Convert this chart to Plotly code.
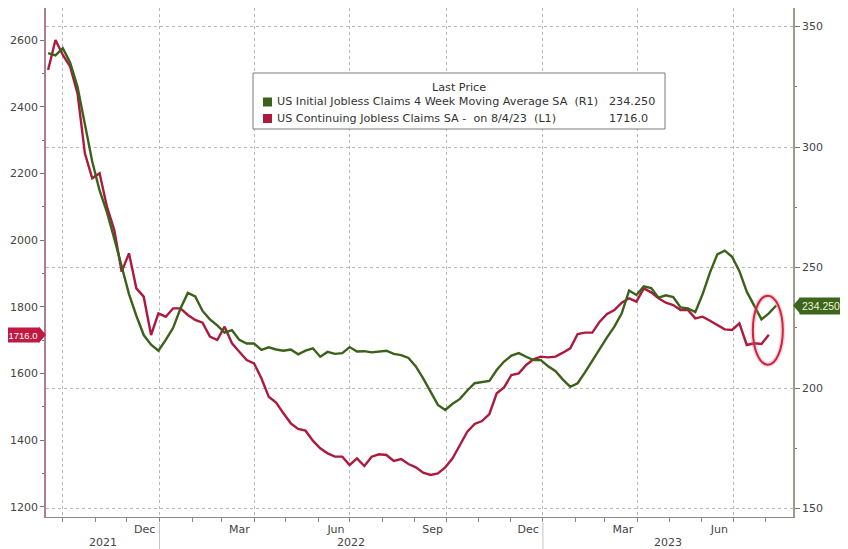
import pandas as pd
import plotly.graph_objects as go

# ---------------- data ----------------
red_start = "2021-09-17"
green_start = "2021-09-17"

continuing_claims = [
    2510, 2600, 2555, 2520, 2440, 2260, 2185, 2200, 2100, 2030,
    1905, 1960, 1855, 1830, 1715, 1780, 1770, 1795, 1795, 1775,
    1760, 1752, 1710, 1700, 1740, 1690, 1665, 1640, 1630, 1585,
    1530, 1512, 1480, 1450, 1433, 1428, 1398, 1375, 1360, 1350,
    1350, 1325, 1345, 1322, 1350, 1357, 1355, 1337, 1343, 1328,
    1318, 1302, 1295, 1300, 1318, 1345, 1385, 1425, 1448, 1457,
    1478, 1540, 1558, 1595, 1600, 1625, 1642, 1650, 1648, 1650,
    1662, 1675, 1718, 1722, 1722, 1755, 1778, 1790, 1812, 1825,
    1815, 1855, 1843, 1825, 1812, 1805, 1790, 1790, 1765, 1770,
    1758, 1745, 1732, 1730, 1750, 1685, 1690, 1688, 1716.0,
]

initial_claims_4wk = [
    339, 338, 341, 335, 325, 310, 294, 282, 273, 262,
    250, 239, 230, 222, 218, 215.5, 220, 225, 233, 239.5,
    238, 232, 228.5, 226, 223, 224, 220, 218.5, 218.5, 215.8,
    216.9, 216, 215.5, 216, 214, 215.5, 216.5, 213, 215, 214.2,
    214.5, 217, 215.2, 215.3, 214.8, 215, 215.5, 214.2, 213.7, 212.5,
    209, 204, 198.5, 193, 190.9, 193.5, 195.5, 199, 202, 202.6,
    203, 207.5, 211, 213.5, 214.5, 213, 211.6, 211.6, 209, 207,
    203.5, 200.5, 202, 206.5, 211.5, 216.5, 221, 225.5, 231, 240.5,
    238.6, 242.2, 241.5, 237.5, 238.5, 237.8, 233.5, 233.1, 231.5, 239,
    248, 255.5, 257, 254.5, 248.5, 240, 234, 228.5, 231, 234.25,
]

month_tick_dates = ["2021-12-18", "2022-03-18", "2022-06-18", "2022-09-18",
                    "2022-12-18", "2023-03-18", "2023-06-18"]
month_tick_text = ["Dec", "Mar", "Jun", "Sep", "Dec", "Mar", "Jun"]
year_labels = ["2021", "2022", "2023"]
year_bounds = ["2022-01-01", "2023-01-01"]

green_name = "US Initial Jobless Claims 4 Week Moving Average SA\u00a0\u00a0(R1)"
red_name = "US Continuing Jobless Claims SA -\u00a0\u00a0on 8/4/23\u00a0\u00a0(L1)"

# ---------------- styling ----------------
RED = "#ac1a3e"
GREEN = "#3b611b"
FONT = "DejaVu Sans, Verdana, sans-serif"
TAG_FONT = "Liberation Sans, Arial, sans-serif"
TXT = "#444444"
GRID = "#b8b8b8"
LEG_FS = 11.2

# the page body has an 8px margin, so the figure is 8px smaller than the window
W, H = 840, 541
PL, PR, PT, PB = 38, 55, 0, 32   # plot area 747 x 509

x_start = pd.Timestamp("2021-09-15")
x_end = pd.Timestamp("2023-08-27")

red_dates = pd.date_range(red_start, periods=len(continuing_claims), freq="7D")
green_dates = pd.date_range(green_start, periods=len(initial_claims_4wk), freq="7D")

fig = go.Figure()
fig.add_trace(go.Scatter(x=red_dates, y=continuing_claims, mode="lines",
                         line=dict(color=RED, width=2.4), xaxis="x", yaxis="y",
                         showlegend=False, hoverinfo="skip"))
fig.add_trace(go.Scatter(x=green_dates, y=initial_claims_4wk, mode="lines",
                         line=dict(color=GREEN, width=2.4), xaxis="x2", yaxis="y2",
                         showlegend=False, hoverinfo="skip"))

fig.update_layout(
    width=W, height=H,
    margin=dict(l=PL, r=PR, t=PT, b=PB, autoexpand=False),
    paper_bgcolor="white", plot_bgcolor="white",
    font=dict(family=FONT, size=11, color=TXT),
    xaxis=dict(
        range=[x_start, x_end], anchor="y",
        tickmode="array", tickvals=month_tick_dates, ticktext=month_tick_text,
        ticks="", showgrid=False, zeroline=False, ticklabelstandoff=2,
        showline=True, linecolor="#8a8a8a", linewidth=1,
        tickfont=dict(size=11, color=TXT),
        minor=dict(tickmode="linear", tick0="2021-09-01", dtick="M1",
                   ticks="outside", ticklen=4, tickcolor="#8a8a8a", showgrid=False),
    ),
    xaxis2=dict(
        range=[x_start, x_end], overlaying="x", anchor="y2", side="bottom",
        tickmode="linear", tick0="2021-10-01", dtick="M3",
        showgrid=True, gridcolor=GRID, griddash="dot", gridwidth=1,
        showticklabels=False, ticks="", showline=False, zeroline=False,
    ),
    yaxis=dict(
        range=[1169, 2696], tickmode="linear", tick0=1200, dtick=200,
        ticks="outside", ticklen=4, tickcolor="#777777",
        showgrid=False, zeroline=False,
        showline=True, linecolor="#a9808d", linewidth=1.5,
        tickfont=dict(size=11, color=TXT),
        minor=dict(tickmode="linear", tick0=1200, dtick=100, ticks="outside",
                   ticklen=2, tickcolor="#777777", showgrid=False),
    ),
    yaxis2=dict(
        range=[146.5, 357.7], overlaying="y", side="right", anchor="x2",
        tickmode="linear", tick0=150, dtick=50,
        ticks="outside", ticklen=5, tickcolor="#777777",
        showgrid=True, gridcolor=GRID, griddash="dot", gridwidth=1,
        zeroline=False, showline=True, linecolor="#9c9c8c", linewidth=1.5,
        tickfont=dict(size=11, color=TXT),
        minor=dict(tickmode="linear", tick0=150, dtick=25, ticks="outside",
                   ticklen=2, tickcolor="#777777", showgrid=False),
    ),
)

# helpers: window pixel -> paper coordinates
def px_x(p):
    return (p - 8 - PL) / (W - PL - PR)

def px_y(p):
    return (H - PB - (p - 8)) / (H - PT - PB)

# ---- year labels + separators ----
bounds = [x_start] + [pd.Timestamp(b) for b in year_bounds] + [x_end]
for i, lab in enumerate(year_labels):
    mid = bounds[i] + (bounds[i + 1] - bounds[i]) / 2
    fig.add_annotation(x=mid, xref="x", y=px_y(542), yref="paper", yanchor="middle",
                       xanchor="center", text=lab, showarrow=False,
                       font=dict(size=11, color=TXT))
for b in year_bounds:
    fig.add_shape(type="line", xref="x", yref="paper", x0=b, x1=b,
                  y0=px_y(523), y1=px_y(549), line=dict(color="#c4c4c4", width=1))

# ---- legend box ----
fig.add_shape(type="rect", xref="paper", yref="paper",
              x0=px_x(253), x1=px_x(665), y0=px_y(129), y1=px_y(73),
              line=dict(color="#7a7a7a", width=1), fillcolor="white", layer="above")
fig.add_annotation(x=px_x(459), y=px_y(87), xref="paper", yref="paper",
                   xanchor="center", yanchor="middle",
                   text="Last Price", showarrow=False,
                   font=dict(size=LEG_FS, color="#333333"))
rows = [(GREEN, green_name, f"{initial_claims_4wk[-1]:.3f}", 102, 657),
        (RED, red_name, f"{continuing_claims[-1]:.1f}", 118.5, 650)]
for col, name, val, yc, vx in rows:
    fig.add_shape(type="rect", xref="paper", yref="paper",
                  x0=px_x(263), x1=px_x(272), y0=px_y(yc + 4.5), y1=px_y(yc - 4.5),
                  line=dict(width=0), fillcolor=col, layer="above")
    fig.add_annotation(x=px_x(275), y=px_y(yc), xref="paper", yref="paper",
                       xanchor="left", yanchor="middle", text=name, showarrow=False,
                       font=dict(size=LEG_FS, color="#333333"))
    fig.add_annotation(x=px_x(vx), y=px_y(yc), xref="paper", yref="paper",
                       xanchor="right", yanchor="middle", text=val, showarrow=False,
                       font=dict(size=LEG_FS, color="#333333"))

# ---- last-value tags ----
fig.add_annotation(x=0, xref="paper", xanchor="right", xshift=-6,
                   y=continuing_claims[-1], yref="y", yanchor="middle",
                   text=f"{continuing_claims[-1]:.1f}", showarrow=False,
                   bgcolor="#c01a42", borderpad=1.5,
                   font=dict(family=TAG_FONT, size=9.5, color="white"))
fig.add_shape(type="path", xref="paper", yref="y", xsizemode="pixel", ysizemode="pixel",
              xanchor=0, yanchor=continuing_claims[-1],
              path="M -7,8 L 0,0 L -7,-8 Z", fillcolor="#c01a42", line=dict(width=0))
fig.add_annotation(x=1, xref="paper", xanchor="left", xshift=6,
                   y=initial_claims_4wk[-1], yref="y2", yanchor="middle",
                   text=f"{initial_claims_4wk[-1]:.3f}", showarrow=False,
                   bgcolor="#3d651c", borderpad=2,
                   font=dict(family=TAG_FONT, size=10.5, color="#eef5dc"))
fig.add_shape(type="path", xref="paper", yref="y2", xsizemode="pixel", ysizemode="pixel",
              xanchor=1, yanchor=initial_claims_4wk[-1],
              path="M 7,8 L 0,0 L 7,-8 Z", fillcolor="#3d651c", line=dict(width=0))

# ---- highlight ellipse around the latest readings ----
for w, c in [(5, "rgba(230,120,140,0.30)"), (2, "#cf2340")]:
    fig.add_shape(type="circle", xref="x", yref="y", xsizemode="pixel", ysizemode="pixel",
                  xanchor=red_dates[-1], yanchor=continuing_claims[-1],
                  x0=-16, x1=14, y0=-30, y1=39, line=dict(color=c, width=w))

fig.write_html("out.html")
